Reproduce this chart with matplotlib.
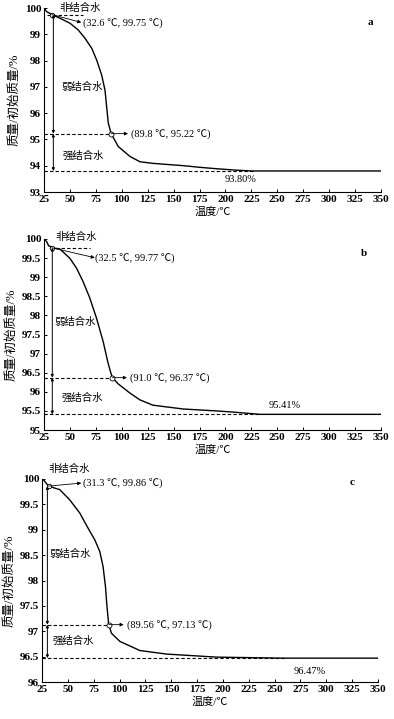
import matplotlib
matplotlib.use("Agg")
import matplotlib.pyplot as plt
from matplotlib.ticker import FuncFormatter

plt.rcParams['font.family'] = ['Liberation Serif', 'Noto Sans CJK SC', 'DejaVu Sans']
plt.rcParams['axes.unicode_minus'] = False

# ---------------- data ----------------
temp_a = [25, 27.6, 32.6, 40.4, 50.1, 58.1, 64.5, 71, 75.8, 80.6, 83.8, 85.4, 87, 89.8, 96.6, 108, 117.6, 130, 143, 160, 175, 190, 207, 225, 250, 300, 350]
mass_a = [100.0, 99.86, 99.75, 99.61, 99.42, 99.16, 98.85, 98.47, 98.02, 97.45, 96.88, 96.25, 95.62, 95.22, 94.73, 94.35, 94.15, 94.09, 94.05, 94.0, 93.94, 93.89, 93.84, 93.80, 93.80, 93.80, 93.80]

temp_b = [25, 27.6, 29.5, 31, 32.5, 40.2, 49.8, 56.3, 62.6, 69.1, 75.6, 82, 86.8, 89.5, 91.0, 96.4, 107.7, 117.4, 130, 159, 191, 207, 233, 260, 300, 350]
mass_b = [100.0, 99.93, 99.82, 99.81, 99.77, 99.74, 99.5, 99.24, 98.89, 98.46, 97.93, 97.32, 96.75, 96.49, 96.37, 96.21, 95.97, 95.79, 95.65, 95.55, 95.5, 95.47, 95.41, 95.41, 95.41, 95.41]

temp_c = [25, 27, 31.3, 42.2, 51.8, 61.5, 69.6, 76.1, 80.9, 84.1, 86.4, 87.6, 88.7, 89.56, 92.2, 100.3, 119.7, 145.5, 194, 258.5, 300, 350]
mass_c = [100.0, 99.97, 99.86, 99.79, 99.59, 99.33, 99.03, 98.8, 98.57, 98.27, 97.88, 97.55, 97.3, 97.13, 96.96, 96.8, 96.62, 96.55, 96.49, 96.47, 96.47, 96.47]

# key points: (temperature, mass)
p1_a, p2_a, final_a = (32.6, 99.75), (89.8, 95.22), 93.80
p1_b, p2_b, final_b = (32.5, 99.77), (91.0, 96.37), 95.41
p1_c, p2_c, final_c = (31.3, 99.86), (89.56, 97.13), 96.47

labels_p1 = ['(32.6 ℃, 99.75 ℃)', '(32.5 ℃, 99.77 ℃)', '(31.3 ℃, 99.86 ℃)']
labels_p2 = ['(89.8 ℃, 95.22 ℃)', '(91.0 ℃, 96.37 ℃)', '(89.56 ℃, 97.13 ℃)']
labels_final = ['93.80%', '95.41%', '96.47%']
panel_letters = ['a', 'b', 'c']

xticks = list(range(25, 351, 25))
yticks_a = [93, 94, 95, 96, 97, 98, 99, 100]
yticks_b = [95, 95.5, 96, 96.5, 97, 97.5, 98, 98.5, 99, 99.5, 100]
yticks_c = [96, 96.5, 97, 97.5, 98, 98.5, 99, 99.5, 100]

zone_labels = ['非结合水', '弱结合水', '强结合水']
xlabel = '温度/℃'
ylabel = '质量/初始质量/%'

# ---------------- figure ----------------
fig = plt.figure(figsize=(3.94, 7.19), dpi=100)
W, H = 394, 719

def add_ax(left, right, top, bottom):
    return fig.add_axes([left / W, 1 - bottom / H, (right - left) / W, (bottom - top) / H])

fmt = FuncFormatter(lambda v, p: ('%g' % v))
cjk = ['Noto Sans CJK SC', 'DejaVu Sans']
num = ['Liberation Serif', 'Noto Sans CJK SC', 'DejaVu Sans']

def panel(ax, T, M, yticks, p1, p2, final, lab1, lab2, labf, letter, cfg):
    ax.plot(T, M, color='black', lw=1.0)
    ax.set_xlim(25, 350)
    ax.set_ylim(yticks[0], yticks[-1])
    ax.set_xticks(xticks)
    ax.set_yticks(yticks)
    ax.yaxis.set_major_formatter(fmt)
    for s in ['top', 'right']:
        ax.spines[s].set_visible(False)
    for s in ['left', 'bottom']:
        ax.spines[s].set_linewidth(0.8)
    ax.tick_params(direction='in', length=2.5, width=0.7, labelsize=8, pad=2)
    for t in ax.get_xticklabels() + ax.get_yticklabels():
        t.set_fontweight('bold')
        t.set_family(num)
    ax.set_xlabel(xlabel, fontsize=8, family=num, labelpad=2)
    ax.set_ylabel(ylabel, fontsize=9, family=num, labelpad=3)

    dash = dict(color='black', lw=0.8, ls=(0, (3, 2)))
    # dashed lines
    if cfg.get('dash1') is not None:
        ax.plot(cfg['dash1'], [p1[1], p1[1]], **dash)
    ax.plot([25, p2[0]], [p2[1], p2[1]], **dash)
    ax.plot([25, cfg['dashf_end']], [final, final], **dash)
    # markers
    ax.plot([p1[0]], [p1[1]], marker='o', ms=3.2, mfc='white', mec='black', mew=0.6)
    ax.plot([p2[0]], [p2[1]], marker='o', ms=3.6, mfc='white', mec='black', mew=0.6)
    # vertical double arrows
    vx = cfg['vx']
    arr = dict(arrowstyle='<|-|>', color='black', lw=0.7, mutation_scale=4, shrinkA=0, shrinkB=0)
    ax.annotate('', xy=(vx, p1[1]), xytext=(vx, p2[1]), arrowprops=arr)
    ax.annotate('', xy=(vx, p2[1]), xytext=(vx, final), arrowprops=arr)
    # pointer arrows
    parr = dict(arrowstyle='-|>', color='black', lw=0.6, mutation_scale=5, shrinkA=0, shrinkB=0)
    ax.annotate('', xy=cfg['a1_end'], xytext=p1, arrowprops=parr)
    ax.annotate('', xy=cfg['a2_end'], xytext=p2, arrowprops=parr)
    ax.text(cfg['t1'][0], cfg['t1'][1], lab1, fontsize=7.5, family=num, va='center', ha='left')
    ax.text(cfg['a2_end'][0] + 3, p2[1], lab2, fontsize=7.5, family=num, va='center', ha='left')
    ax.text(cfg['tf'][0], cfg['tf'][1], labf, fontsize=7.5, family=num, va='center', ha='center')
    # zone labels
    ax.text(cfg['z0'][0], cfg['z0'][1], zone_labels[0], fontsize=7.5, family=cjk, va='center', ha='left', clip_on=False)
    ax.text(cfg['z1'][0], cfg['z1'][1], zone_labels[1], fontsize=7.5, family=cjk, va='center', ha='left')
    ax.text(cfg['z2'][0], cfg['z2'][1], zone_labels[2], fontsize=7.5, family=cjk, va='center', ha='left')
    ax.text(cfg['let'][0], cfg['let'][1], letter, fontsize=8, family=num, fontweight='bold', va='center', ha='center')

ax_a = add_ax(44, 381, 8, 192)
panel(ax_a, temp_a, mass_a, yticks_a, p1_a, p2_a, final_a, labels_p1[0], labels_p2[0], labels_final[0], 'a',
      dict(dash1=[28, 63], dashf_end=228, vx=34, a1_end=(61, 99.45), t1=(63, 99.45), a2_end=(106, 95.22),
           tf=(215, 93.48), z0=(40, 100.02), z1=(42, 97.0), z2=(43, 94.4), let=(340, 99.43)))

ax_b = add_ax(44, 381, 239, 430)
panel(ax_b, temp_b, mass_b, yticks_b, p1_b, p2_b, final_b, labels_p1[1], labels_p2[1], labels_final[1], 'b',
      dict(dash1=[31, 69], dashf_end=235, vx=33, a1_end=(74, 99.51), t1=(74.5, 99.51), a2_end=(105, 96.37),
           tf=(257, 95.63), z0=(36, 100.05), z1=(35.5, 97.84), z2=(42, 95.85), let=(334, 99.63)))

ax_c = add_ax(42, 378, 479, 682)
panel(ax_c, temp_c, mass_c, yticks_c, p1_c, p2_c, final_c, labels_p1[2], labels_p2[2], labels_final[2], 'c',
      dict(dash1=None, dashf_end=260, vx=30.2, a1_end=(63, 99.92), t1=(64.5, 99.93), a2_end=(104, 97.13),
           tf=(284, 96.21), z0=(31, 100.2), z1=(32.4, 98.53), z2=(35.6, 96.82), let=(325, 99.93)))

fig.savefig('out.png', dpi=100)
